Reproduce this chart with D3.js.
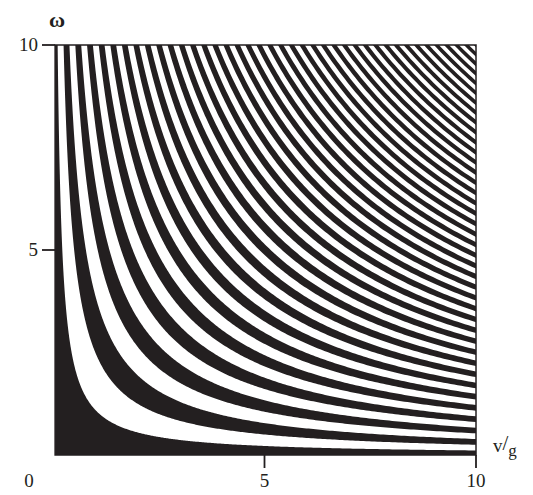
<!DOCTYPE html>
<html><head><meta charset="utf-8">
<script src="https://cdn.jsdelivr.net/npm/d3@7"></script>
<style>body{margin:0;background:#fff}svg{display:block}</style>
</head><body>
<script>
// values of the product omega * (v/g) where the shading switches
const bandEdges = [1.1, 2.50, 3.89, 5.28, 6.67, 8.05, 9.43, 10.81, 12.18, 13.55, 14.92, 16.28, 17.64, 19.00,
  20.35, 21.70, 23.05, 24.39, 25.73, 27.07, 28.41, 29.74, 31.07, 32.39, 33.71, 35.03, 36.35, 37.66, 38.97,
  40.28, 41.58, 42.88, 44.18, 45.47, 46.76, 48.05, 49.34, 50.62, 51.90, 53.18, 54.45, 55.72, 56.99, 58.25,
  59.51, 60.77, 62.02, 63.27, 64.52, 65.77, 67.01, 68.25, 69.49, 70.72, 71.95, 73.18, 74.40, 75.62, 76.84,
  78.06, 79.27, 80.48, 81.69, 82.89, 84.09, 85.29, 86.49, 87.68, 88.87, 90.06, 91.24, 92.42, 93.60, 94.78,
  95.95, 97.12, 98.29, 99.45, 100.61];
const xTicks = [5, 10];
const yTicks = [5, 10];
const xDomain = [0, 10];
const yDomain = [0, 10];
const vStart = 0.05;

const W = 533, H = 495;
const svg = d3.select("body").append("svg").attr("width", W).attr("height", H);
const x = d3.scaleLinear().domain(xDomain).range([53, 476]);
const y = d3.scaleLinear().domain(yDomain).range([455, 45]);
const ink = "#231f20";

// black bands: [0,c0], [c1,c2], [c3,c4], ...
const bands = [[0, bandEdges[0]]];
for (let i = 1; i + 1 < bandEdges.length; i += 2) bands.push([bandEdges[i], bandEdges[i + 1]]);

const N = 600;
const vs = d3.range(N + 1).map(i => vStart * Math.pow(10 / vStart, i / N));
const cap = 10.3;
const area = d3.area()
  .x(d => x(d.v))
  .y0(d => y(Math.min(d.a / d.v, cap)))
  .y1(d => y(Math.min(d.b / d.v, cap)))
  .curve(d3.curveLinear);

svg.append("clipPath").attr("id", "pc").append("rect")
  .attr("x", x(vStart)).attr("y", y(10)).attr("width", x(10) - x(vStart)).attr("height", y(0) - y(10));

const g = svg.append("g").attr("clip-path", "url(#pc)");
g.selectAll("path.band").data(bands).join("path")
  .attr("class", "band")
  .attr("fill", ink)
  .attr("d", ([a, b]) => area(vs.map(v => ({v, a, b}))));

// frame
svg.append("rect")
  .attr("x", x(vStart)).attr("y", y(10)).attr("width", x(10) - x(vStart)).attr("height", y(0) - y(10))
  .attr("fill", "none").attr("stroke", ink).attr("stroke-width", 1.5);

const font = "'Liberation Serif', 'DejaVu Serif', serif";
// y ticks
svg.selectAll("line.yt").data(yTicks).join("line")
  .attr("x1", 42).attr("x2", x(vStart)).attr("y1", d => y(d)).attr("y2", d => y(d))
  .attr("stroke", ink).attr("stroke-width", 1.8);
svg.selectAll("text.yl").data(yTicks).join("text")
  .attr("x", 38).attr("y", d => y(d) + 6).attr("text-anchor", "end")
  .attr("font-family", font).attr("font-size", 19).attr("fill", ink).text(d => d);
// x ticks
svg.selectAll("line.xt").data(xTicks).join("line")
  .attr("x1", d => x(d)).attr("x2", d => x(d)).attr("y1", y(0)).attr("y2", 468)
  .attr("stroke", ink).attr("stroke-width", 1.8);
svg.selectAll("text.xl").data(xTicks).join("text")
  .attr("x", d => x(d)).attr("y", 487).attr("text-anchor", "middle")
  .attr("font-family", font).attr("font-size", 19).attr("fill", ink).text(d => d);
// origin
svg.append("text").attr("x", 29).attr("y", 487).attr("text-anchor", "middle")
  .attr("font-family", font).attr("font-size", 19).attr("fill", ink).text("0");
// omega label
svg.append("text").attr("x", 57).attr("y", 27).attr("text-anchor", "middle")
  .attr("font-family", font).attr("font-size", 22).attr("font-weight", "bold").attr("fill", ink).text("ω");
// v/g label
const t = svg.append("text").attr("x", 493).attr("y", 452)
  .attr("font-family", font).attr("font-size", 19).attr("fill", ink);
t.append("tspan").text("v");
t.append("tspan").attr("dy", -2).attr("font-size", 21).text("/");
t.append("tspan").attr("dy", 6).attr("font-size", 17).text("g");
</script>
</body></html>
